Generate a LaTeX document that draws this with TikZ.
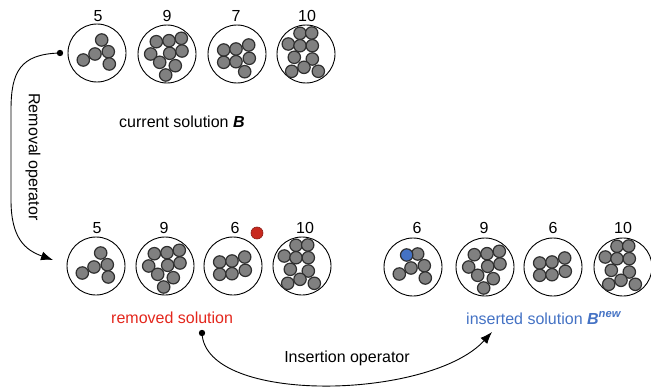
\documentclass[tikz,border=0pt]{standalone}
\usepackage{fontspec}
\setmainfont{Liberation Sans}
\usetikzlibrary{arrows.meta,calc}
\definecolor{itemgray}{HTML}{808080}
\definecolor{itemedge}{HTML}{303030}
\definecolor{remred}{HTML}{E3261C}
\definecolor{dotred}{HTML}{C8281E}
\definecolor{insblue}{HTML}{4472C4}
\tikzset{
  bin/.style={draw=black, line width=0.9pt, circle, minimum size=58pt, inner sep=0pt},
  item/.style={draw=itemedge, line width=1.2pt, fill=itemgray},
  lbl/.style={font=\fontsize{16}{19}\selectfont, inner sep=0pt},
  conn/.style={draw=black, line width=0.9pt},
}
\newcommand\binA[1]{\foreach \dx/\dy in {4.7/-13,-2/1,11.3/-1.3,-13.7/7,12.3/11}{\draw[item] ($(#1)+(\dx,\dy)$) circle (6.2);}}
\newcommand\binB[1]{\foreach \dx/\dy in {-10.7/-12.3,2/-13.3,14.3/-15.7,-16.3/0,2.7/-0.7,15/-3,-7.3/8.3,8.3/11.7,-1.3/21}{\draw[item] ($(#1)+(\dx,\dy)$) circle (6.2);}}
\newcommand\binC[1]{\foreach \dx/\dy in {-13.3/-4,-1/-5,11.7/-9,-13.3/8.3,-1/7.7,12.3/4.3}{\draw[item] ($(#1)+(\dx,\dy)$) circle (6.2);}}
\newcommand\binD[1]{\foreach \dx/\dy in {-6/-20.7,5.7/-21,-17.7/-10,-6/-8.3,6.3/-8.3,-11.7/3.3,6.3/5,-14.3/17.3,-2/13.3,12.3/17.3}{\draw[item] ($(#1)+(\dx,\dy)$) circle (6.2);}}
\begin{document}
\begin{tikzpicture}[x=1pt,y=-1pt]
\useasboundingbox (0,0) rectangle (651,388);
% top row
\node[bin] (t1) at (97,53) {};
\node[bin] (t2) at (167,54) {};
\node[bin] (t3) at (237,54) {};
\node[bin] (t4) at (306,54) {};
\node[lbl] (lt1) at (98,16) {5};
\node[lbl] (lt2) at (167,16) {9};
\node[lbl] (lt3) at (236,16) {7};
\node[lbl] (lt4) at (307,16) {10};
\binA{t1}
\binB{t2}
\binC{t3}
\draw[item] ($(t3)+(7.7,17.7)$) circle (6.2);
\binD{t4}
\node[lbl, anchor=west] (cur) at (119,122) {current solution \textbf{\textit{B}}};
% bottom left row
\node[bin] (r1) at (96,266) {};
\node[bin] (r2) at (165,266) {};
\node[bin] (r3) at (233,266) {};
\node[bin] (r4) at (302,266) {};
\node[lbl] (lr1) at (97,228) {5};
\node[lbl] (lr2) at (164,228) {9};
\node[lbl] (lr3) at (235,228) {6};
\node[lbl] (lr4) at (305,228) {10};
\binA{r1}
\binB{r2}
\binC{r3}
\binD{r4}
\fill[dotred, draw=dotred!70!black, line width=0.6pt] (257,233) circle (6);
\node[lbl, anchor=west, text=remred] (rem) at (111,318) {removed solution};
% bottom right row
\node[bin] (n1) at (413,267) {};
\node[bin] (n2) at (485,267) {};
\node[bin] (n3) at (553,267) {};
\node[bin] (n4) at (623,267) {};
\node[lbl] (ln1) at (417,228) {6};
\node[lbl] (ln2) at (484,228) {9};
\node[lbl] (ln3) at (553,228) {6};
\node[lbl] (ln4) at (623,228) {10};
\binA{n1}
\draw[item, fill=insblue] ($(n1)+(-6.3,-12)$) circle (6.2);
\binB{n2}
\binC{n3}
\binD{n4}
\node[lbl, anchor=west, text=insblue] (ins) at (466,318) {inserted solution \textbf{\textit{B}}\textsuperscript{\textbf{\textit{new}}}};
% removal operator
\coordinate (rs) at (60,53);
\coordinate (re) at (53,260);
\fill (rs) circle (3.2);
\draw[conn, -{Latex[length=12pt,width=9pt]}] (rs) .. controls (20,54) and (11,72) .. (11,110) -- (11,200) .. controls (11,238) and (25,250) .. (re);
\node[lbl, rotate=-90] (remop) at (33,157) {Removal operator};
% insertion operator
\coordinate (is) at (202,333);
\coordinate (ie) at (492,332);
\fill (is) circle (3.2);
\draw[conn, -{Latex[length=12pt,width=9pt]}] (is) .. controls (205,405) and (430,400) .. (ie);
\node[lbl] (insop) at (347,358) {Insertion operator};
\end{tikzpicture}
\end{document}
